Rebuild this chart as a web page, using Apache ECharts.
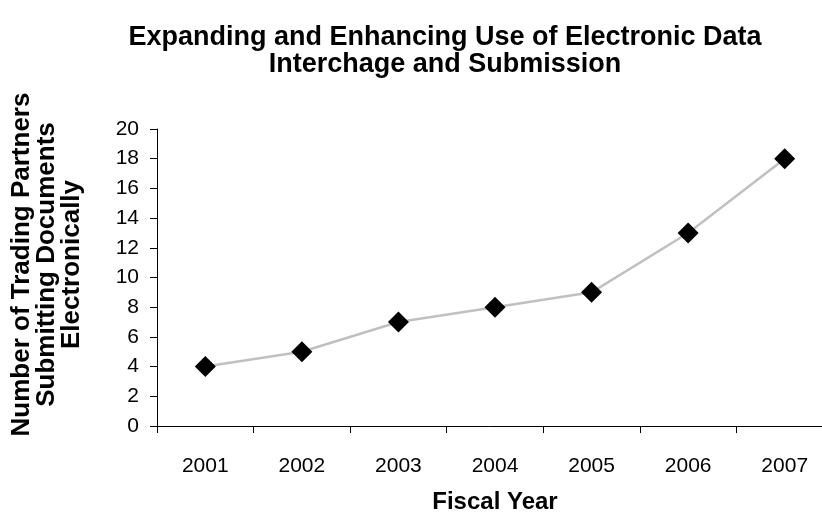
<!DOCTYPE html>
<html>
<head>
<meta charset="utf-8">
<script src="https://cdn.jsdelivr.net/npm/echarts@6/dist/echarts.min.js"></script>
<style>
  html, body { margin: 0; padding: 0; background: #fff; }
  #chart { width: 822px; height: 513px; }
</style>
</head>
<body>
<div id="chart"></div>
<script>
// Fiscal years on the category axis
const fiscalYears = ['2001', '2002', '2003', '2004', '2005', '2006', '2007'];
// Trading partners submitting documents electronically, per fiscal year
const partnerCounts = [4, 5, 7, 8, 9, 13, 18];
// Value axis range and step
const yMin = 0;
const yMax = 20;
const yStep = 2;

const FONT = '"Liberation Sans", Arial, Helvetica, sans-serif';

const chart = echarts.init(document.getElementById('chart'), null, { renderer: 'canvas' });

chart.setOption({
  animation: false,
  backgroundColor: '#ffffff',
  title: {
    text: 'Expanding and Enhancing Use of Electronic Data\nInterchage and Submission',
    left: 440,
    top: 19,
    textAlign: 'center',
    textStyle: {
      fontFamily: FONT,
      fontWeight: 'bold',
      fontSize: 27,
      lineHeight: 27,
      color: '#000'
    }
  },
  grid: {
    left: 157,
    top: 129,
    width: 676,
    bottom: 87,
    // the last category runs a little past the right edge
    outerBoundsMode: 'none',
    containLabel: false
  },
  xAxis: {
    type: 'category',
    data: fiscalYears,
    boundaryGap: true,
    name: 'Fiscal Year',
    nameLocation: 'middle',
    nameGap: 64,
    nameTextStyle: {
      fontFamily: FONT,
      fontWeight: 'bold',
      fontSize: 24,
      color: '#000'
    },
    axisLine: { show: true, lineStyle: { color: '#000', width: 1 } },
    axisTick: { show: true, length: 7, inside: false, lineStyle: { color: '#000', width: 1 } },
    axisLabel: {
      margin: 30,
      fontFamily: FONT,
      fontSize: 21,
      color: '#000'
    },
    splitLine: { show: false }
  },
  yAxis: {
    type: 'value',
    min: yMin,
    max: yMax,
    interval: yStep,
    name: 'Number of Trading Partners\nSubmitting Documents\nElectronically',
    nameLocation: 'middle',
    nameRotate: 90,
    nameGap: 73,
    nameTextStyle: {
      fontFamily: FONT,
      fontWeight: 'bold',
      fontSize: 26,
      lineHeight: 25,
      // lift the rotated title a little above the axis centre
      padding: [0, 0, 0, 26],
      color: '#000'
    },
    axisLine: { show: true, lineStyle: { color: '#000', width: 1 } },
    axisTick: { show: true, length: 7, inside: false, lineStyle: { color: '#000', width: 1 } },
    axisLabel: {
      margin: 18,
      fontFamily: FONT,
      fontSize: 21,
      color: '#000'
    },
    splitLine: { show: false }
  },
  series: [{
    type: 'line',
    data: partnerCounts,
    symbol: 'diamond',
    symbolSize: 21,
    showSymbol: true,
    lineStyle: { color: '#c0c0c0', width: 2.5 },
    itemStyle: { color: '#000', borderWidth: 0 },
    z: 3
  }]
});
</script>
</body>
</html>
